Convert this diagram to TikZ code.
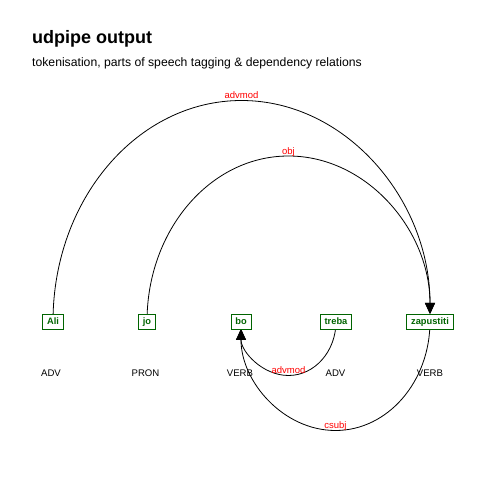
\documentclass[tikz,border=0pt]{standalone}
\usepackage{fontspec}
\setmainfont{Liberation Sans}
\usetikzlibrary{arrows.meta,backgrounds}
\definecolor{tokgreen}{HTML}{006400}
\begin{document}
\begin{tikzpicture}[x=1pt,y=1pt,
  token/.style={draw=tokgreen, fill=white, line width=0.9pt, text=tokgreen,
    font=\fontsize{9.3}{9}\selectfont\bfseries, minimum height=15pt,
    inner xsep=4.3pt, inner ysep=0pt, text height=6.5pt, text depth=0pt},
  upos/.style={font=\fontsize{9.6}{10}\selectfont, anchor=base, inner sep=0pt},
  deprel/.style={font=\fontsize{9.5}{10}\selectfont, text=red, anchor=base, inner sep=0pt},
  dep/.style={draw=black, line width=0.8pt, shorten >=7.5pt,
    -{Triangle[length=11pt,width=10pt]}},
]
\useasboundingbox (0,0) rectangle (480,480);

% heading
\node[anchor=base west, inner sep=0pt, font=\fontsize{18}{18}\selectfont\bfseries]
  (title) at (32,436) {udpipe output};
\node[anchor=base west, inner sep=0pt, font=\fontsize{12.2}{12}\selectfont]
  (subtitle) at (32,413) {tokenisation, parts of speech tagging \& dependency relations};

% tokens
\node[token] (ali)  at (53,158.5)  {Ali};
\node[token] (jo)   at (147,158.5) {jo};
\node[token] (bo)   at (241,158.5) {bo};
\node[token] (treba) at (336,158.5) {treba};
\node[token] (zap)  at (430,158.5) {zapustiti};

% part-of-speech tags
\node[upos] (p1) at (51,103)    {ADV};
\node[upos] (p2) at (145.5,103) {PRON};
\node[upos] (p3) at (240,103)   {VERB};
\node[upos] (p4) at (335.5,103) {ADV};
\node[upos] (p5) at (430,103)   {VERB};

% dependency arcs
\begin{scope}[on background layer]
  \draw[dep] (ali.center) arc[start angle=180, end angle=0, x radius=188.5, y radius=221];
  \draw[dep] (jo.center) arc[start angle=180, end angle=0, x radius=141.5, y radius=165.5];
  \draw[dep] (treba.center) arc[start angle=0, end angle=-180, x radius=47.5, y radius=54];
  \draw[dep] (zap.center) arc[start angle=0, end angle=-180, x radius=94.5, y radius=109];
\end{scope}

% relation labels
\node[deprel] (r1) at (241.5,381)  {advmod};
\node[deprel] (r2) at (288.5,325.5) {obj};
\node[deprel] (r3) at (288.5,106)  {advmod};
\node[deprel] (r4) at (335.5,51)   {csubj};
\end{tikzpicture}
\end{document}
